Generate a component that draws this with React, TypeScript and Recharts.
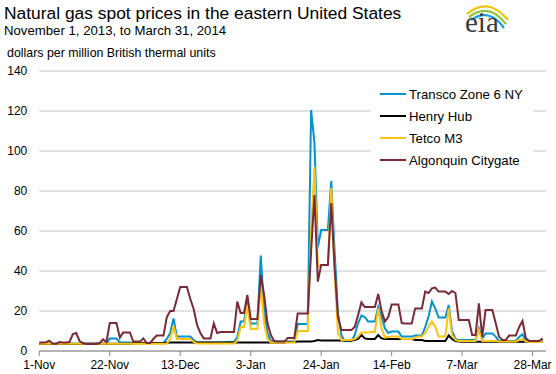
import { CartesianGrid, Legend, Line, LineChart, XAxis, YAxis } from "recharts";

// one value per calendar day, Nov 1 2013 (Fri) .. Mar 31 2014, rows are weeks
const transco = [
  3.8, 3.8, 3.8, 3.8, 3.8, 3.8, 3.8,
  3.8, 3.8, 3.8, 3.8, 3.8, 3.8, 3.8,
  3.8, 3.8, 3.8, 3.8, 3.8, 3.8, 3.8,
  6.2, 6.2, 6.2, 4.2, 4.2, 4.2, 4.2,
  4, 4, 4, 4, 4, 4, 4,
  4, 4, 4, 6, 9, 16.3, 7.2,
  7.2, 7.2, 7.2, 7.2, 5.5, 4.2, 4.2,
  4.2, 4.2, 4.2, 4.2, 4.2, 4.2, 4.2,
  4.5, 4.5, 4.5, 7, 14.7, 14.7, 25,
  13.7, 13.7, 13.7, 47.7, 20, 9, 5,
  4.7, 4.7, 4.7, 4.7, 4.7, 4.7, 4.7,
  13.5, 13.5, 13.5, 13.5, 120.5, 104, 52,
  60.5, 60.5, 60.5, 85, 50, 19, 8,
  5, 5, 5, 8, 14, 17.7, 17,
  14.7, 14.7, 14.7, 22, 17, 11.3, 9,
  9.7, 9.7, 9.7, 7.2, 7.2, 7.2, 7.2,
  7.7, 7.7, 7.7, 12, 17.2, 24.7, 21.3,
  16.7, 16.7, 16.7, 23, 10, 6, 5.5,
  5.5, 5.5, 5.5, 5.5, 5.5, 11.3, 6.3,
  8.8, 8.8, 8.8, 7.2, 5, 5, 5,
  5, 5, 5, 7, 8.3, 5, 4.7,
  4.7, 4.7, 4.7, 4.7,
];

const henryHub = [
  3.5, 3.5, 3.5, 3.5, 3.5, 3.5, 3.5,
  3.5, 3.5, 3.5, 3.5, 3.5, 3.5, 3.5,
  3.6, 3.6, 3.6, 3.6, 3.6, 3.6, 3.6,
  3.6, 3.6, 3.6, 3.6, 3.6, 3.6, 3.6,
  3.9, 3.9, 3.9, 4, 4, 4, 4,
  4, 4, 4, 4.1, 4.2, 4.2, 4.3,
  4.3, 4.3, 4.3, 4.3, 4.3, 4.3, 4.3,
  4.3, 4.3, 4.3, 4.3, 4.3, 4.3, 4.3,
  4.3, 4.3, 4.3, 4.3, 4.3, 4.3, 4.3,
  4.3, 4.3, 4.3, 4.3, 4.3, 4.3, 4.3,
  4.3, 4.3, 4.3, 4.3, 4.5, 4.5, 4.5,
  4.7, 4.7, 4.7, 4.7, 4.8, 5, 5.5,
  5.2, 5.2, 5.2, 5.2, 5.2, 5.2, 5.2,
  5.2, 5.2, 5.2, 5.5, 6, 8, 6.3,
  6, 6, 6, 8, 6.3, 6, 6,
  6, 6, 6, 6, 6, 6, 6,
  5.5, 5.5, 5.5, 5, 5, 5, 5,
  5, 5, 5, 7.8, 6, 5, 4.8,
  4.6, 4.6, 4.6, 4.6, 4.6, 4.6, 4.6,
  4.6, 4.6, 4.6, 4.6, 4.6, 4.6, 4.6,
  4.6, 4.6, 4.6, 4.6, 4.6, 4.6, 4.6,
  4.6, 4.6, 4.6, 4.6,
];

const tetco = [
  3.6, 3.6, 3.6, 3.6, 3.6, 3.6, 3.6,
  3.6, 3.6, 3.6, 3.6, 3.6, 3.6, 3.6,
  3.6, 3.6, 3.6, 3.6, 3.6, 3.6, 3.6,
  3.6, 3.6, 3.6, 3.6, 3.6, 3.6, 3.6,
  3.6, 3.6, 3.6, 3.6, 3.6, 3.6, 3.6,
  3.6, 3.6, 3.6, 3.6, 6, 12.5, 6,
  6, 6, 6, 6, 4.5, 3.8, 3.8,
  3.8, 3.8, 3.8, 3.8, 3.8, 3.8, 3.8,
  3.8, 3.8, 3.8, 5, 12, 12, 23,
  11, 11, 11, 33, 14, 6, 4.3,
  4.3, 4.3, 4.3, 4.3, 4.3, 4.3, 4.3,
  10, 10, 10, 10, 60, 92, 42,
  43, 43, 43, 81.5, 40, 9, 5.5,
  5.5, 5.5, 5.5, 6, 7.2, 9.3, 9.3,
  9.3, 9.5, 9.5, 21.3, 11.3, 6.7, 7,
  7.2, 7.2, 7.2, 6, 6, 6, 6,
  6.5, 7.2, 7.2, 9, 12.2, 14.7, 12.2,
  7.2, 7.2, 7.2, 21.3, 8, 5.5, 5,
  5, 5, 5, 5, 5, 10.5, 5,
  5, 5, 5, 5, 4.7, 4.7, 4.7,
  4.7, 4.7, 4.7, 5.5, 6, 4.7, 4.5,
  4.5, 4.5, 4.5, 4.5,
];

const algonquin = [
  4.2, 4.2, 4.4, 5.2, 3.6, 3.6, 4.5,
  4.2, 4.2, 4.5, 8.5, 9, 5, 4,
  3.5, 3.5, 3.5, 3.5, 4, 5.8, 4.5,
  14, 14, 14, 6.7, 9.3, 9.3, 9.3,
  4.7, 4.7, 4.7, 6.3, 4, 4, 6,
  7.7, 7.7, 7.7, 17, 20, 20, 26,
  32, 32, 32, 26, 21, 13, 9,
  6.3, 6.3, 6.3, 13.8, 9, 9.5, 9.5,
  9.5, 9.5, 9.5, 24.7, 19, 19, 28,
  16, 16, 16, 38, 28, 14, 8,
  5, 4.7, 4.7, 4.7, 6.5, 6.5, 6.5,
  18.8, 18.8, 18.8, 18.8, 50, 78, 34.7,
  43, 43, 43, 74, 42, 17, 10.5,
  10.5, 10.5, 10.5, 12, 18, 24.3, 22,
  22, 22, 22, 28.5, 20, 14.7, 17,
  23.3, 23.3, 23.3, 14, 13.8, 13.8, 13.8,
  21.3, 21.3, 21.3, 29.7, 29, 31.3, 31.7,
  29.7, 29.7, 29.7, 28.5, 30, 29, 15.5,
  15.5, 15.5, 15.5, 8, 8, 23.8, 7.2,
  20.5, 20.5, 20.5, 14, 7.2, 5.5, 5.5,
  7.7, 7.7, 7.7, 12, 15, 6.3, 5,
  5, 5, 5, 6.3,
];

const tickLabels = ["1-Nov", "22-Nov", "13-Dec", "3-Jan", "24-Jan", "14-Feb", "7-Mar", "28-Mar"];
const yTicks = [0, 20, 40, 60, 80, 100, 120, 140];

const series = [
  { key: "transco", name: "Transco Zone 6 NY", color: "#0093d0" },
  { key: "henryHub", name: "Henry Hub", color: "#000000" },
  { key: "tetco", name: "Tetco M3", color: "#ffc20e" },
  { key: "algonquin", name: "Algonquin Citygate", color: "#7a2a36" },
];

const data = algonquin.map((_, i) => ({
  day: i,
  transco: transco[i],
  henryHub: henryHub[i],
  tetco: tetco[i],
  algonquin: algonquin[i],
}));

const xTicks = tickLabels.map((_, i) => i * 21);
const font = "'Liberation Sans', Arial, sans-serif";

function LegendBox() {
  return (
    <div style={{ background: "#fff", width: 162, height: 92, fontFamily: font, fontSize: 13.2 }}>
      {series.map((s, i) => (
        <div key={s.key} style={{ position: "absolute", left: 9, top: 5 + i * 22, height: 18, display: "flex", alignItems: "center" }}>
          <span style={{ display: "inline-block", width: 26, height: 2.5, background: s.color, marginRight: 3 }} />
          <span style={{ color: "#000", whiteSpace: "nowrap" }}>{s.name}</span>
        </div>
      ))}
    </div>
  );
}

export default function App() {
  return (
    <div style={{ position: "absolute", left: 0, top: 0, width: 556, height: 374, background: "#fff", fontFamily: font }}>
      <LineChart width={556} height={374} data={data} margin={{ top: 71, right: 10, left: 9.3, bottom: 0 }}>
        <CartesianGrid vertical={false} stroke="#c4c4c4" strokeWidth={1} />
        <XAxis
          dataKey="day"
          type="number"
          domain={[0, 151]}
          ticks={xTicks}
          tickFormatter={(v) => tickLabels[xTicks.indexOf(v)] ?? ""}
          height={23}
          stroke="#868686"
          tickSize={5}
          tickMargin={4}
          tick={{ fill: "#000", fontSize: 12, fontFamily: font }}
          interval={0}
        />
        <YAxis
          domain={[0, 140]}
          ticks={yTicks}
          width={30}
          axisLine={false}
          tickLine={false}
          tickMargin={6}
          tick={{ fill: "#000", fontSize: 12, fontFamily: font }}
          interval={0}
        />
        {series.map((s) => (
          <Line
            key={s.key}
            dataKey={s.key}
            name={s.name}
            type="linear"
            stroke={s.color}
            strokeWidth={2}
            dot={false}
            isAnimationActive={false}
          />
        ))}
        <Legend
          layout="vertical"
          align="center"
          verticalAlign="middle"
          content={() => <LegendBox />}
          wrapperStyle={{ left: 371, top: 80, width: 162, height: 92 }}
        />
      </LineChart>
      <svg width={556} height={374} style={{ position: "absolute", left: 0, top: 0, pointerEvents: "none" }}>
        <text x={4} y={18.5} fontSize={17.4} fontFamily={font} fill="#000">
          Natural gas spot prices in the eastern United States
        </text>
        <text x={4} y={34.5} fontSize={13.2} fontFamily={font} fill="#000">
          November 1, 2013, to March 31, 2014
        </text>
        <text x={7} y={57} fontSize={12.4} fontFamily={font} fill="#000">
          dollars per million British thermal units
        </text>
        <path d="M467,14 Q488,-4 508,20" fill="none" stroke="#f2c200" strokeWidth={2.2} />
        <path d="M469,17 Q489,2 506,24" fill="none" stroke="#8cc63e" strokeWidth={2.2} />
        <path d="M471,20 Q489,7 504,28" fill="none" stroke="#12a0dc" strokeWidth={2.2} />
        <text x={465} y={32} fontSize={29} fontFamily="'Liberation Serif', serif" fill="#3c3c3c">
          eia
        </text>
      </svg>
    </div>
  );
}
